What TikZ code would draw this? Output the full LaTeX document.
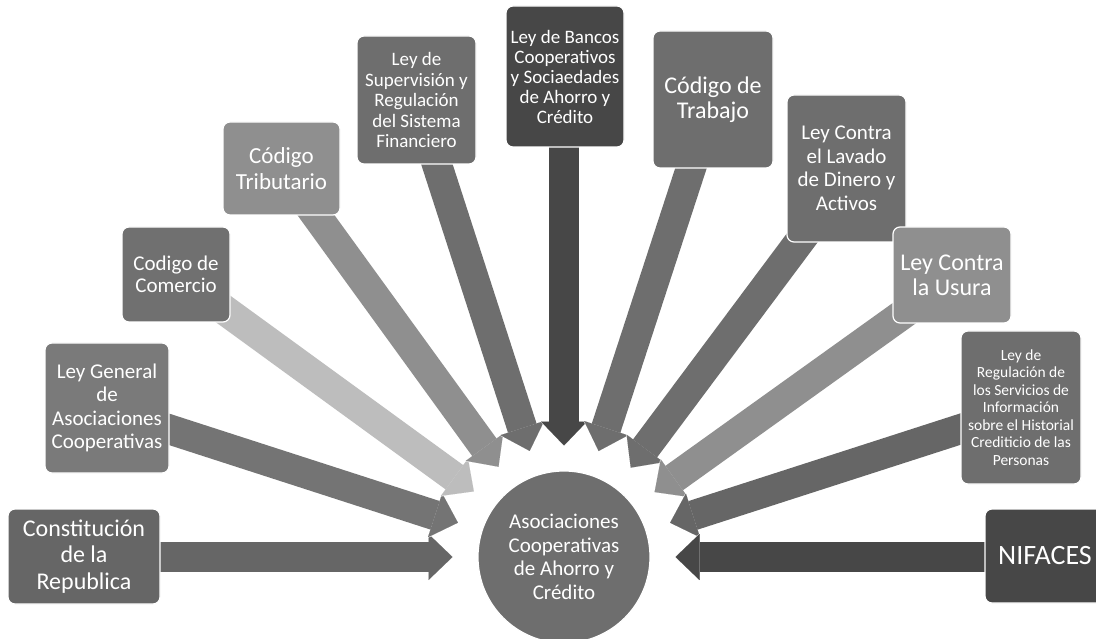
\documentclass[tikz,border=0pt]{standalone}
\usepackage{fontspec}
\setmainfont{Carlito}
\usetikzlibrary{arrows.meta,calc}
\definecolor{darkfill}{HTML}{474747}
\definecolor{midfill}{HTML}{6E6E6E}
\definecolor{constfill}{HTML}{666666}
\definecolor{genfill}{HTML}{7A7A7A}
\definecolor{lightfill}{HTML}{8F8F8F}
\definecolor{palefill}{HTML}{BDBDBD}
\newcommand{\fs}[2]{\fontsize{#1}{#2}\selectfont}

\begin{document}
\begin{tikzpicture}[x=1pt,y=-1pt,
  lawbox/.style={rectangle, rounded corners=7pt, draw=white, line width=1.2pt, text=white, align=center, inner sep=2pt},
  flow/.style={preaction={draw=white, line width=32pt, shorten >=0pt, -{Triangle[length=27pt,width=50pt,line width=0.01pt]}},
    line width=30pt, shorten >=1.5pt, -{Triangle[length=24pt,width=46pt,line width=0.01pt]}}]
\useasboundingbox (0,0) rectangle (1096,639);
\clip (0,0) rectangle (1096,639);

\coordinate (c) at (564,557);
% tails, hidden behind the boxes
\coordinate (from1) at (120,557);
\coordinate (from2) at (131,417);
\coordinate (from3) at (186,282);
\coordinate (from4) at (281,167);
\coordinate (from5) at (419,109);
\coordinate (from6) at (564,100);
\coordinate (from7) at (709,113);
\coordinate (from8) at (832,198);
\coordinate (from9) at (945,284);
\coordinate (from10) at (1001,416);
\coordinate (from11) at (1000,557);

\draw[flow, draw=constfill] (from1) -- ($(c)!110pt!(from1)$);
\draw[flow, draw=genfill!95!black] (from2) -- ($(c)!110pt!(from2)$);
\draw[flow, draw=palefill] (from3) -- ($(c)!110pt!(from3)$);
\draw[flow, draw=lightfill] (from4) -- ($(c)!110pt!(from4)$);
\draw[flow, draw=midfill] (from5) -- ($(c)!110pt!(from5)$);
\draw[flow, draw=darkfill] (from6) -- ($(c)!110pt!(from6)$);
\draw[flow, draw=midfill] (from7) -- ($(c)!110pt!(from7)$);
\draw[flow, draw=midfill] (from8) -- ($(c)!110pt!(from8)$);
\draw[flow, draw=lightfill] (from9) -- ($(c)!110pt!(from9)$);
\draw[flow, draw=constfill] (from10) -- ($(c)!110pt!(from10)$);
\draw[flow, draw=darkfill] (from11) -- ($(c)!110pt!(from11)$);

\node[lawbox, fill=constfill, minimum width=152pt, minimum height=95pt, font=\fs{24}{26.5}] (law1) at (84,556.5) {Constitución\\de la\\Republica};
\node[lawbox, fill=genfill, minimum width=124pt, minimum height=130pt, font=\fs{21}{23.5}] (law2) at (107,408) {Ley General\\de\\Asociaciones\\Cooperativas};
\node[lawbox, fill=genfill!92!black, minimum width=108pt, minimum height=95pt, font=\fs{21}{22.5}] (law3) at (176,274.5) {Codigo de\\Comercio};
\node[lawbox, fill=lightfill, minimum width=117pt, minimum height=93pt, font=\fs{23}{26}] (law4) at (281.5,168.5) {Código\\Tributario};
\node[lawbox, fill=midfill, minimum width=119pt, minimum height=128pt, font=\fs{19}{20.5}] (law5) at (416.5,100) {Ley de\\Supervisión y\\Regulación\\del Sistema\\Financiero};
\node[lawbox, fill=darkfill, minimum width=118pt, minimum height=141pt, font=\fs{19}{20}] (law6) at (565,76.5) {Ley de Bancos\\Cooperativos\\y Sociaedades\\de Ahorro y\\Crédito};
\node[lawbox, fill=midfill, minimum width=120pt, minimum height=137pt, font=\fs{24}{25}] (law7) at (713,99.5) {Código de\\Trabajo};
\node[lawbox, fill=midfill, minimum width=119pt, minimum height=147pt, font=\fs{21}{23.5}] (law8) at (846.5,168.5) {Ley Contra\\el Lavado\\de Dinero y\\Activos};
\node[lawbox, fill=lightfill, minimum width=118pt, minimum height=96pt, font=\fs{24}{25}] (law9) at (952,275) {Ley Contra\\la Usura};
\node[lawbox, fill=midfill, minimum width=120pt, minimum height=153pt, font=\fs{15.5}{17.5}] (law10) at (1021,407.5) {Ley de\\Regulación de\\los Servicios de\\Información\\sobre el Historial\\Crediticio de las\\Personas};
\node[lawbox, fill=darkfill, minimum width=120pt, minimum height=94pt, font=\fs{28}{30}] (law11) at (1045,556) {NIFACES};

\node[circle, draw=white, line width=1.2pt, fill=midfill, text=white, align=center, minimum size=172pt, inner sep=0pt, font=\fs{21}{23.5}] (coop) at (c) {Asociaciones\\Cooperativas\\de Ahorro y\\Crédito};
\end{tikzpicture}
\end{document}
